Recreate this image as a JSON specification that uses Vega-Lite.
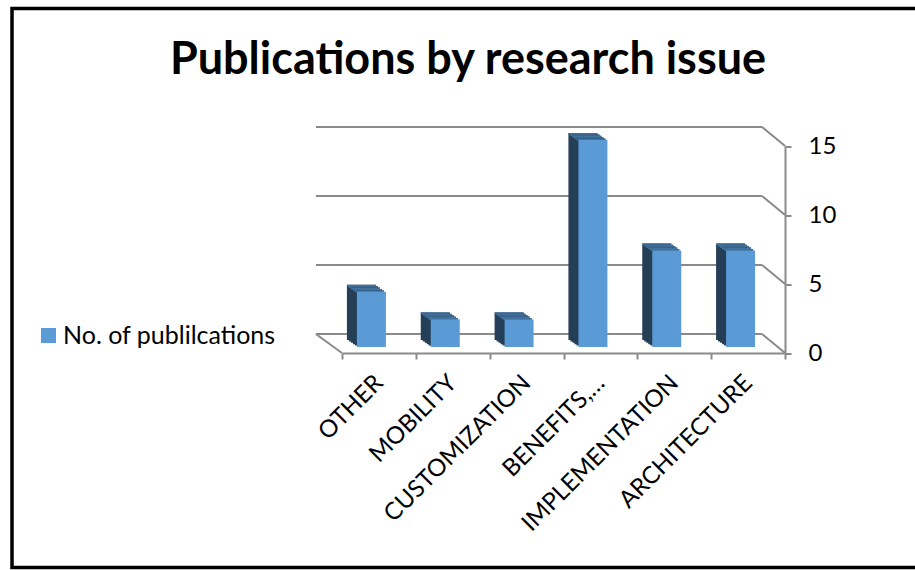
{
  "$schema": "https://vega.github.io/schema/vega-lite/v6.json",
  "width": 903,
  "height": 559,
  "autosize": {"type": "none"},
  "padding": {"left": 12, "top": 8.5, "right": 0, "bottom": 2.5},
  "background": "white",
  "title": {
    "text": "Publications by research issue",
    "font": "Lato",
    "fontSize": 45,
    "fontWeight": "bold",
    "color": "#000000",
    "anchor": "middle",
    "frame": "group",
    "baseline": "alphabetic",
    "offset": -110.5,
    "dx": 4.5
  },
  "datasets": {
    "issues": [
      {"issue": "OTHER", "n": 4},
      {"issue": "MOBILITY", "n": 2},
      {"issue": "CUSTOMIZATION", "n": 2},
      {"issue": "BENEFITS,…", "n": 15},
      {"issue": "IMPLEMENTATION", "n": 7},
      {"issue": "ARCHITECTURE", "n": 7}
    ],
    "levels": [{"v": 0}, {"v": 5}, {"v": 10}, {"v": 15}]
  },
  "data": {"name": "issues"},
  "layer": [
    {
      "data": {"name": "levels"},
      "mark": {"type": "rule", "color": "#8a8a8a", "strokeWidth": 2, "xOffset": -63, "x2Offset": 14, "yOffset": -19},
      "encoding": {
        "x": {"datum": "OTHER", "type": "nominal"},
        "x2": {"datum": "ARCHITECTURE"},
        "y": {"field": "v", "type": "quantitative"}
      }
    },
    {
      "data": {"name": "levels"},
      "mark": {"type": "rule", "color": "#8a8a8a", "strokeWidth": 2, "xOffset": 14, "x2Offset": 37, "yOffset": -19, "y2Offset": 0},
      "encoding": {
        "x": {"datum": "ARCHITECTURE", "type": "nominal"},
        "x2": {"datum": "ARCHITECTURE"},
        "y": {"field": "v", "type": "quantitative"},
        "y2": {"field": "v"}
      }
    },
    {
      "data": {"name": "levels"},
      "transform": [{"filter": "datum.v === 0"}],
      "mark": {"type": "rule", "color": "#8a8a8a", "strokeWidth": 2, "xOffset": -63, "x2Offset": -37, "yOffset": -19, "y2Offset": 0},
      "encoding": {
        "x": {"datum": "OTHER", "type": "nominal"},
        "x2": {"datum": "OTHER"},
        "y": {"field": "v", "type": "quantitative"},
        "y2": {"field": "v"}
      }
    },
    {
      "mark": {"type": "bar", "color": "#243f56", "width": 29, "xOffset": -17.5, "yOffset": -13, "y2Offset": -12},
      "encoding": {"x": {"field": "issue", "type": "nominal"}, "y": {"field": "n", "type": "quantitative"}}
    },
    {
      "mark": {"type": "bar", "color": "#41719c", "width": 29, "xOffset": -17.5, "yOffset": -13, "y2Offset": -11.2},
      "encoding": {"x": {"field": "issue", "type": "nominal"}, "y": {"field": "n", "type": "quantitative"}, "y2": {"field": "n"}}
    },
    {
      "mark": {"type": "bar", "color": "#243f56", "width": 29, "xOffset": -15.5, "yOffset": -11.6, "y2Offset": -10.6},
      "encoding": {"x": {"field": "issue", "type": "nominal"}, "y": {"field": "n", "type": "quantitative"}}
    },
    {
      "mark": {"type": "bar", "color": "#41719c", "width": 29, "xOffset": -15.5, "yOffset": -11.6, "y2Offset": -9.8},
      "encoding": {"x": {"field": "issue", "type": "nominal"}, "y": {"field": "n", "type": "quantitative"}, "y2": {"field": "n"}}
    },
    {
      "mark": {"type": "bar", "color": "#243f56", "width": 29, "xOffset": -13.5, "yOffset": -10.2, "y2Offset": -9.2},
      "encoding": {"x": {"field": "issue", "type": "nominal"}, "y": {"field": "n", "type": "quantitative"}}
    },
    {
      "mark": {"type": "bar", "color": "#41719c", "width": 29, "xOffset": -13.5, "yOffset": -10.2, "y2Offset": -8.4},
      "encoding": {"x": {"field": "issue", "type": "nominal"}, "y": {"field": "n", "type": "quantitative"}, "y2": {"field": "n"}}
    },
    {
      "mark": {"type": "bar", "color": "#243f56", "width": 29, "xOffset": -11.5, "yOffset": -8.8, "y2Offset": -7.8},
      "encoding": {"x": {"field": "issue", "type": "nominal"}, "y": {"field": "n", "type": "quantitative"}}
    },
    {
      "mark": {"type": "bar", "color": "#41719c", "width": 29, "xOffset": -11.5, "yOffset": -8.8, "y2Offset": -7.0},
      "encoding": {"x": {"field": "issue", "type": "nominal"}, "y": {"field": "n", "type": "quantitative"}, "y2": {"field": "n"}}
    },
    {
      "mark": {"type": "bar", "color": "#243f56", "width": 29, "xOffset": -9.5, "yOffset": -7.4, "y2Offset": -6.4},
      "encoding": {"x": {"field": "issue", "type": "nominal"}, "y": {"field": "n", "type": "quantitative"}}
    },
    {
      "mark": {"type": "bar", "color": "#41719c", "width": 29, "xOffset": -9.5, "yOffset": -7.4, "y2Offset": -5.6},
      "encoding": {"x": {"field": "issue", "type": "nominal"}, "y": {"field": "n", "type": "quantitative"}, "y2": {"field": "n"}}
    },
    {
      "mark": {"type": "bar", "width": 29, "xOffset": -7.5, "yOffset": -6, "y2Offset": -5},
      "encoding": {
        "x": {
          "field": "issue",
          "type": "nominal",
          "sort": null,
          "scale": {
            "domain": ["OTHER", "MOBILITY", "CUSTOMIZATION", "BENEFITS,…", "IMPLEMENTATION", "ARCHITECTURE"],
            "range": [330, 773],
            "paddingInner": 0,
            "paddingOuter": 0
          },
          "axis": {
            "orient": "bottom",
            "offset": -214.5,
            "title": null,
            "domain": true,
            "domainColor": "#8a8a8a",
            "domainWidth": 2,
            "ticks": true,
            "tickBand": "extent",
            "tickSize": 6,
            "tickColor": "#8a8a8a",
            "tickWidth": 2,
            "grid": false,
            "labelAngle": -45,
            "labelAlign": "right",
            "labelBaseline": "middle",
            "labelFont": "Lato",
            "labelFontSize": 24,
            "labelColor": "#000000",
            "labelPadding": 20,
            "labelOverlap": false,
            "labelLimit": 0
          }
        },
        "y": {
          "field": "n",
          "type": "quantitative",
          "scale": {"domain": [0, 15], "range": [344.5, 137.5], "nice": false, "zero": true},
          "axis": {
            "orient": "right",
            "offset": -130,
            "title": null,
            "values": [0, 5, 10, 15],
            "domain": true,
            "domainColor": "#8a8a8a",
            "domainWidth": 2,
            "ticks": true,
            "tickSize": 6,
            "tickColor": "#8a8a8a",
            "tickWidth": 2,
            "grid": false,
            "labelFont": "Lato",
            "labelFontSize": 24,
            "labelColor": "#000000",
            "labelPadding": 17
          }
        },
        "color": {
          "datum": "No. of publilcations",
          "scale": {"range": ["#5b9bd5"]},
          "legend": {
            "orient": "none",
            "legendX": 24,
            "legendY": 314.5,
            "title": null,
            "padding": 0,
            "symbolType": "square",
            "symbolSize": 225,
            "symbolStrokeWidth": 0,
            "labelFont": "Lato",
            "labelFontSize": 25,
            "labelColor": "#000000",
            "labelOffset": 2,
            "labelLimit": 0
          }
        }
      }
    }
  ],
  "config": {
    "view": {"stroke": "#000000", "strokeWidth": 3.5, "strokeDash": [903, 559, 4000]}
  }
}
